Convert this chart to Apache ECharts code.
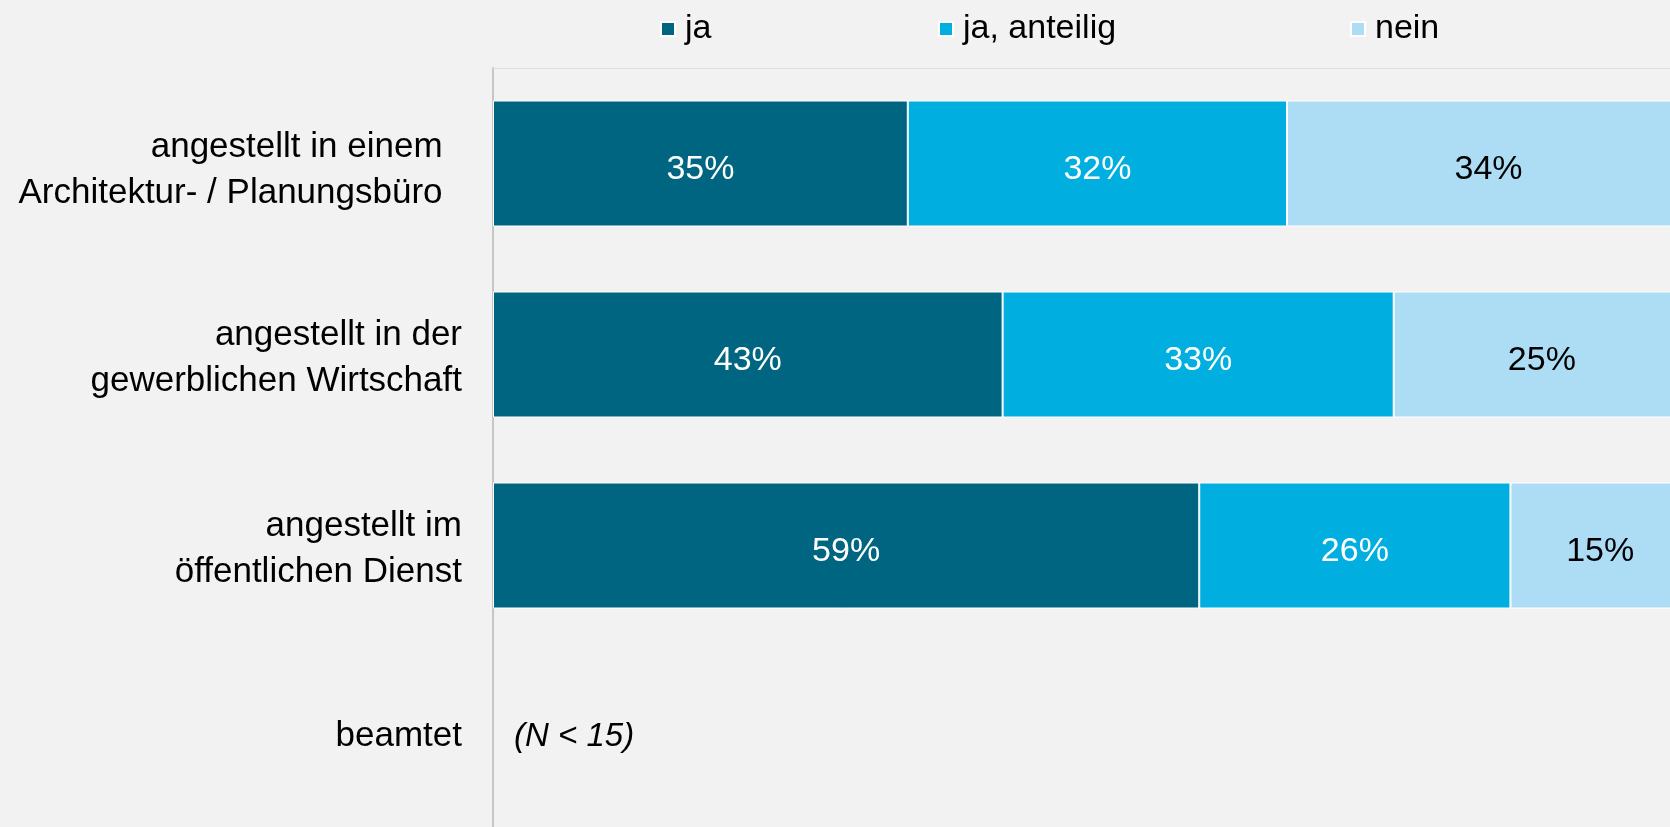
<!DOCTYPE html>
<html>
<head>
<meta charset="utf-8">
<script src="https://cdn.jsdelivr.net/npm/echarts@6/dist/echarts.min.js"></script>
<style>
  html, body { margin: 0; padding: 0; background: #f2f2f2; overflow: hidden; }
  /* the plot runs past the window edge in the original, so the canvas is a bit larger */
  #chart { width: 1720px; height: 860px; }
</style>
</head>
<body>
<div id="chart"></div>
<script>
// data
const categories = [
    'angestellt in einem\nArchitektur- / Planungsbüro',
    'angestellt in der\ngewerblichen Wirtschaft',
    'angestellt im\nöffentlichen Dienst',
    'beamtet'
]
const seriesNames = ['ja', 'ja, anteilig', 'nein']
const jaValues = [35, 43, 59, null]
const anteiligValues = [32, 33, 26, null]
const neinValues = [34, 25, 15, null]
const notes = [null, null, null, '(N < 15)']

const colors = ['#006580', '#00aedf', '#addcf5']
const labelColors = ['#ffffff', '#ffffff', '#000000']
const font = "'Liberation Sans', Arial, sans-serif"

// rows are shown as 100% stacked bars, so each row is scaled to its own sum
const rows = [jaValues, anteiligValues, neinValues]
function rowSum(i) {
    return rows.reduce((s, r) => s + (r[i] || 0), 0)
}
function shares(values) {
    return values.map((v, i) => v == null ? null : v / rowSum(i) * 100)
}

const chart = echarts.init(document.getElementById('chart'))

const barSeries = rows.map((values, k) => ({
    name: seriesNames[k],
    type: 'bar',
    stack: 'total',
    barWidth: 126,
    data: shares(values),
    itemStyle: { color: colors[k], borderColor: '#ffffff', borderWidth: 1 },
    label: {
        show: true,
        position: 'inside',
        offset: [0, 6],
        color: labelColors[k],
        fontFamily: font,
        fontSize: 34,
        formatter: p => values[p.dataIndex] + '%'
    }
}))

const noteSeries = {
    name: 'hinweis',
    type: 'bar',
    stack: 'total',
    barWidth: 126,
    silent: true,
    data: notes.map(n => n == null ? null : 0),
    itemStyle: { color: 'transparent' },
    label: {
        show: true,
        position: 'right',
        distance: 21,
        color: '#000000',
        fontFamily: font,
        fontStyle: 'italic',
        fontSize: 33,
        formatter: p => notes[p.dataIndex] || ''
    }
}

const legendX = [660, 938, 1350]
const legends = seriesNames.map((name, k) => ({
    data: [name],
    left: legendX[k],
    top: 12,
    padding: 0,
    itemWidth: 14,
    itemHeight: 14,
    icon: 'rect',
    selectedMode: false,
    textStyle: { fontFamily: font, fontSize: 34, color: '#000000', padding: [0, 0, 0, 5] }
}))

chart.setOption({
    backgroundColor: '#f2f2f2',
    animation: false,
    legend: legends,
    grid: { left: 493, top: 68, width: 1197, height: 764 },
    xAxis: {
        type: 'value',
        min: 0,
        max: 100,
        position: 'top',
        axisLine: { show: true, lineStyle: { color: '#dedede', width: 1 } },
        axisTick: { show: false },
        axisLabel: { show: false },
        splitLine: { show: false }
    },
    yAxis: {
        type: 'category',
        inverse: true,
        data: categories,
        axisLine: { show: true, lineStyle: { color: '#c6c6c6', width: 2 } },
        axisTick: { show: false },
        axisLabel: {
            margin: 31,
            color: '#000000',
            fontFamily: font,
            fontSize: 35,
            lineHeight: 46,
            align: 'right',
            // a thin empty line on top pushes the two-line labels down a bit;
            // the first label also sits a little further left in the original
            formatter: (v, i) => {
                const lines = v.split('\n')
                if (lines.length === 1) return '{t|' + v + '}'
                const pad = i === 0 ? '{s1| }\n' : '{s2| }\n'
                return pad + lines.map(s => '{t|' + s + (i === 0 ? '\u00a0\u00a0' : '') + '}').join('\n')
            },
            rich: {
                t: { fontFamily: font, fontSize: 35, lineHeight: 46, color: '#000000' },
                s1: { fontSize: 6, lineHeight: 14, height: 14 },
                s2: { fontSize: 6, lineHeight: 8, height: 8 }
            }
        }
    },
    series: [...barSeries, noteSeries]
})
</script>
</body>
</html>
